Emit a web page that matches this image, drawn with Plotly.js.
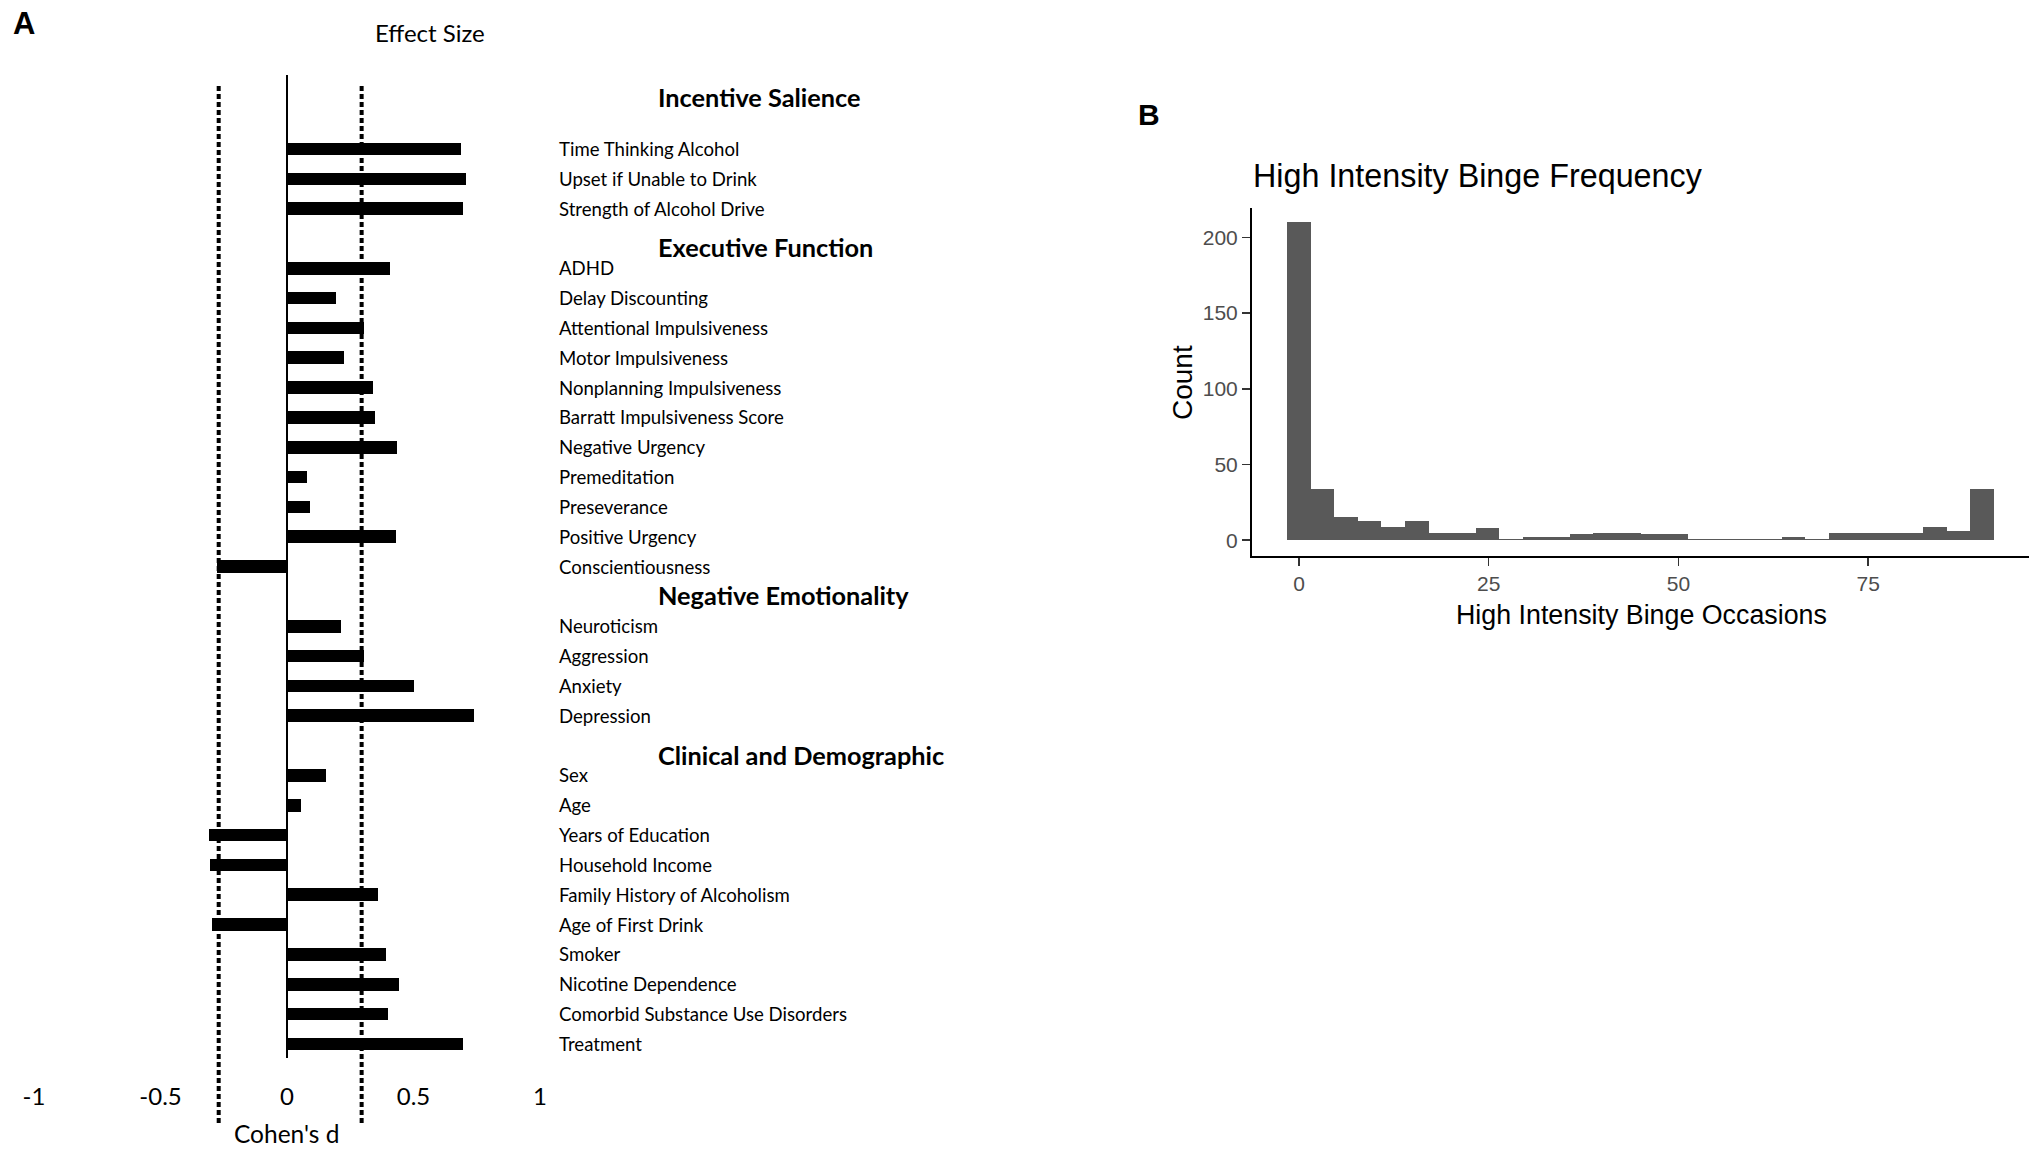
<!DOCTYPE html>
<html><head><meta charset="utf-8">
<script src="https://cdn.plot.ly/plotly-3.0.1.min.js"></script>
<style>html,body{margin:0;padding:0;background:#fff}#chart{width:2033px;height:1150px}</style>
</head><body><div id="chart"></div>
<script>
// ---------- DATA: Panel A (Cohen's d effect sizes) ----------
const groupHeaders = ['Incentive Salience', 'Executive Function', 'Negative Emotionality', 'Clinical and Demographic'];

const incentiveLabels = ['Time Thinking Alcohol', 'Upset if Unable to Drink', 'Strength of Alcohol Drive'];
const incentiveD = [0.689, 0.709, 0.694];

const executiveLabels = ['ADHD', 'Delay Discounting', 'Attentional Impulsiveness', 'Motor Impulsiveness',
  'Nonplanning Impulsiveness', 'Barratt Impulsiveness Score', 'Negative Urgency', 'Premeditation',
  'Preseverance', 'Positive Urgency', 'Conscientiousness'];
const executiveD = [0.406, 0.192, 0.305, 0.224, 0.338, 0.346, 0.434, 0.081, 0.091, 0.429, -0.277];

const emotionLabels = ['Neuroticism', 'Aggression', 'Anxiety', 'Depression'];
const emotionD = [0.214, 0.303, 0.502, 0.739];

const clinicalLabels = ['Sex', 'Age', 'Years of Education', 'Household Income', 'Family History of Alcoholism',
  'Age of First Drink', 'Smoker', 'Nicotine Dependence', 'Comorbid Substance Use Disorders', 'Treatment'];
const clinicalD = [0.154, 0.055, -0.310, -0.303, 0.361, -0.298, 0.391, 0.441, 0.398, 0.694];

const effectTicks = [-1, -0.5, 0, 0.5, 1];
const effectTickText = ['-1', '-0.5', '0', '0.5', '1'];
const effectThresholds = [-0.27, 0.295];

// ---------- DATA: Panel B (histogram counts) ----------
const bingeBinCenters = [0, 3.10, 6.21, 9.31, 12.41, 15.52, 18.62, 21.72, 24.83, 27.93,
  31.03, 34.14, 37.24, 40.34, 43.45, 46.55, 49.66, 52.76, 55.86, 58.97,
  62.07, 65.17, 68.28, 71.38, 74.48, 77.59, 80.69, 83.79, 86.90, 90.00];
const bingeCounts = [210, 34, 15, 13, 9, 13, 5, 5, 8, 1,
  2, 2, 4, 5, 5, 4, 4, 1, 1, 1,
  1, 2, 1, 5, 5, 5, 5, 9, 6, 34];
const bingeBinWidth = 3.1034;
const bingeXTicks = [0, 25, 50, 75];
const bingeYTicks = [0, 50, 100, 150, 200];

// ---------- LAYOUT HELPERS ----------
const W = 2033, H = 1150;
const px = v => v / W;
const py = v => 1 - v / H;

const groups = [[incentiveLabels, incentiveD], [executiveLabels, executiveD], [emotionLabels, emotionD], [clinicalLabels, clinicalD]];
let slot = 0;
const barY = [], barX = [], itemLabels = [], headerSlots = [];
groups.forEach(([labs, vals]) => {
  headerSlots.push(slot); slot++;
  labs.forEach((l, i) => { barY.push(slot); barX.push(vals[i]); itemLabels.push(l); slot++; });
});
const headerNudge = [-0.74, 0.275, -0.05, 0.31];

const fontA = 'Lato, "Open Sans", sans-serif';
const fontB = '"Liberation Sans", Arial, sans-serif';

const traces = [
  {
    type: 'bar', orientation: 'h', x: barX, y: barY, width: 0.425,
    marker: { color: '#000000', line: { width: 0 } },
    xaxis: 'x', yaxis: 'y', hoverinfo: 'skip'
  },
  {
    type: 'bar', x: bingeBinCenters, y: bingeCounts, width: bingeBinWidth,
    marker: { color: '#595959', line: { width: 0 } },
    xaxis: 'x2', yaxis: 'y2', hoverinfo: 'skip'
  }
];

const annotations = [];
itemLabels.forEach((t, i) => annotations.push({
  xref: 'paper', yref: 'y', x: px(557), y: barY[i], xanchor: 'left', yanchor: 'middle',
  text: t, showarrow: false, font: { family: fontA, size: 18.6, color: '#000' }
}));
groupHeaders.forEach((t, i) => annotations.push({
  xref: 'paper', yref: 'y', x: px(656), y: headerSlots[i] + headerNudge[i], xanchor: 'left', yanchor: 'middle',
  text: '<b>' + t + '</b>', showarrow: false, font: { family: fontA, size: 25.3, color: '#000' }
}));
annotations.push(
  { xref: 'paper', yref: 'paper', x: px(430), y: py(33), xanchor: 'center', yanchor: 'middle', text: 'Effect Size',
    showarrow: false, font: { family: fontA, size: 24, color: '#000' } },
  { xref: 'paper', yref: 'paper', x: px(286.5), y: py(1133), xanchor: 'center', yanchor: 'middle', text: "Cohen's d",
    showarrow: false, font: { family: fontA, size: 24.5, color: '#000' } },
  { xref: 'paper', yref: 'paper', x: px(11), y: py(23), xanchor: 'left', yanchor: 'middle', text: '<b>A</b>',
    showarrow: false, font: { family: fontB, size: 31, color: '#000' } },
  { xref: 'paper', yref: 'paper', x: px(1136), y: py(115), xanchor: 'left', yanchor: 'middle', text: '<b>B</b>',
    showarrow: false, font: { family: fontB, size: 30, color: '#000' } },
  { xref: 'paper', yref: 'paper', x: px(1251), y: py(176), xanchor: 'left', yanchor: 'middle', text: 'High Intensity Binge Frequency',
    showarrow: false, font: { family: fontB, size: 32.3, color: '#000' } },
  { xref: 'paper', yref: 'paper', x: px(1641), y: py(615), xanchor: 'center', yanchor: 'middle', text: 'High Intensity Binge Occasions',
    showarrow: false, font: { family: fontB, size: 26.8, color: '#000' } },
  { xref: 'paper', yref: 'paper', x: px(1182), y: py(383), xanchor: 'center', yanchor: 'middle', text: 'Count', textangle: -90,
    showarrow: false, font: { family: fontB, size: 28, color: '#000' } }
);

const shapes = [
  { type: 'line', xref: 'x', yref: 'y domain', x0: 0, x1: 0, y0: 0, y1: 1, line: { color: '#000', width: 2 } }
];
effectThresholds.forEach(v => shapes.push({
  type: 'line', xref: 'x', yref: 'y domain', x0: v, x1: v, y0: -0.0661, y1: 0.9898,
  line: { color: '#000', width: 4, dash: '5px,3px' }
}));

const layout = {
  width: W, height: H,
  margin: { l: 0, r: 0, t: 0, b: 0, pad: 0 },
  paper_bgcolor: '#ffffff', plot_bgcolor: 'rgba(0,0,0,0)',
  showlegend: false, bargap: 0,
  xaxis: {
    domain: [px(34), px(540)], range: [-1, 1], anchor: 'y',
    tickmode: 'array', tickvals: effectTicks, ticktext: effectTickText,
    ticks: 'outside', ticklen: 17, tickcolor: 'rgba(0,0,0,0)',
    showgrid: false, zeroline: false, showline: false,
    tickfont: { family: fontA, size: 24, color: '#000' }
  },
  yaxis: {
    domain: [py(1058), py(75)], range: [31.473, -1.481], anchor: 'x',
    showticklabels: false, ticks: '', showgrid: false, zeroline: false, showline: false
  },
  xaxis2: {
    domain: [px(1252), px(2029)], range: [-6.2, 96.2], anchor: 'y2',
    tickmode: 'array', tickvals: bingeXTicks,
    ticks: 'outside', ticklen: 8, tickwidth: 1.5, tickcolor: '#333333',
    showline: true, linecolor: '#000', linewidth: 2,
    showgrid: false, zeroline: false,
    tickfont: { family: fontB, size: 21, color: '#4D4D4D' }
  },
  yaxis2: {
    domain: [py(556), py(208)], range: [-10.45, 219.45], anchor: 'x2',
    tickmode: 'array', tickvals: bingeYTicks,
    ticks: 'outside', ticklen: 8, tickwidth: 1.5, tickcolor: '#333333',
    showline: true, linecolor: '#000', linewidth: 2,
    showgrid: false, zeroline: false,
    tickfont: { family: fontB, size: 21, color: '#4D4D4D' }
  },
  annotations, shapes
};

Plotly.newPlot('chart', traces, layout, { staticPlot: true, displayModeBar: false });
</script>
</body></html>
